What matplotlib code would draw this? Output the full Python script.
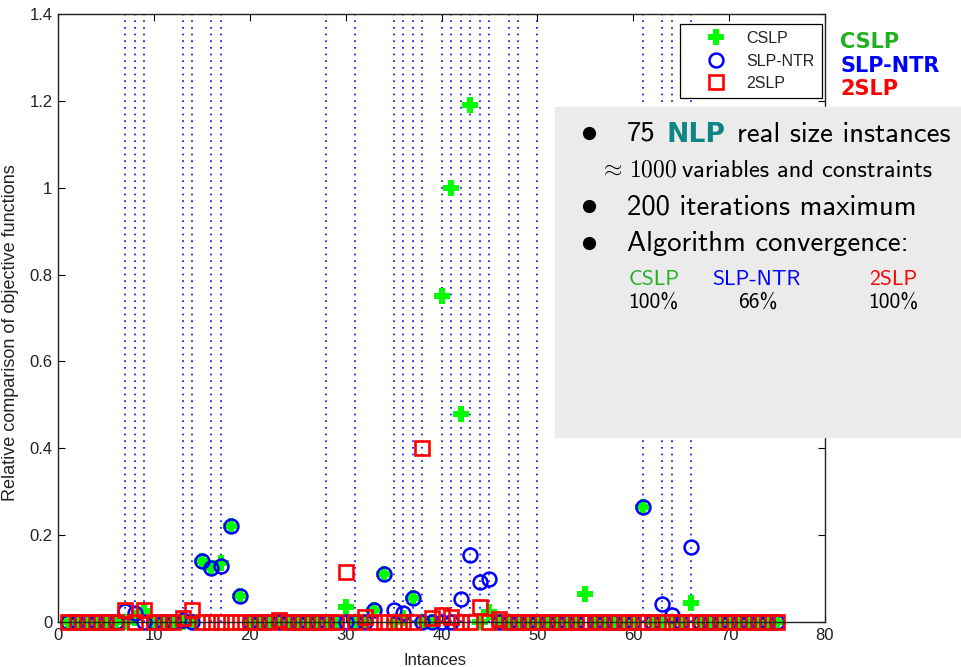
import numpy as np
import matplotlib.pyplot as plt
from matplotlib.patches import Rectangle
from matplotlib.lines import Line2D

plt.rcParams['font.family'] = ['Liberation Sans', 'DejaVu Sans']
plt.rcParams['mathtext.fontset'] = 'cm'

# relative objective comparison for the 75 instances
inst = np.arange(1, 76)
cslp = [0, 0, 0, 0, 0, 0, 0, 0.01, 0.025, 0,
        0, 0, 0, 0, 0.14, 0.125, 0.135, 0.22, 0.06, 0,
        0, 0, 0, 0, 0, 0, 0, 0, 0, 0.035,
        0, 0, 0.028, 0.11, 0, 0.01, 0.055, 0, 0, 0.75,
        1.0, 0.48, 1.19, 0, 0.022, 0, 0, 0, 0, 0,
        0, 0, 0, 0, 0.065, 0, 0, 0, 0, 0,
        0.265, 0, 0, 0, 0, 0.043, 0, 0, 0, 0,
        0, 0, 0, 0, 0]
slpntr = [0, 0, 0, 0, 0, 0, 0.025, 0.02, 0, 0,
          0, 0, 0.005, 0, 0.14, 0.125, 0.128, 0.22, 0.06, 0,
          0, 0, 0, 0, 0, 0, 0, 0, 0, 0,
          0, 0, 0.028, 0.11, 0.028, 0.02, 0.055, 0, 0, 0,
          0, 0.053, 0.155, 0.093, 0.099, 0, 0, 0, 0, 0,
          0, 0, 0, 0, 0, 0, 0, 0, 0, 0,
          0.265, 0, 0.042, 0.015, 0, 0.173, 0, 0, 0, 0,
          0, 0, 0, 0, 0]
twoslp = [0, 0, 0, 0, 0, 0, 0.028, 0, 0.028, 0,
          0, 0, 0.01, 0.028, 0, 0, 0, 0, 0, 0,
          0, 0, 0.005, 0, 0, 0, 0, 0, 0, 0.115,
          0, 0.012, 0, 0, 0, 0, 0, 0.4, 0.01, 0.015,
          0.012, 0, 0, 0.035, 0, 0.008, 0, 0, 0, 0,
          0, 0, 0, 0, 0, 0, 0, 0, 0, 0,
          0, 0, 0, 0, 0, 0, 0, 0, 0, 0,
          0, 0, 0, 0, 0]
# instances where SLP-NTR did not converge
failed = [7, 8, 9, 13, 14, 16, 17, 28, 31, 35, 36, 37, 38, 40, 41, 42, 43,
          44, 45, 47, 48, 50, 61, 63, 64, 66]

W, H = 961, 667
fig = plt.figure(figsize=(W / 100, H / 100), dpi=100)
ax = fig.add_axes([58 / W, 1 - 622 / H, 767 / W, 608 / H])

ax.vlines(failed, 0, 1.4, colors='#0000ff', linestyles=(0, (1, 3)), lw=1.2)
h1, = ax.plot(inst, cslp, 'P', color='#00ff00', ms=11, mew=0, ls='none', clip_on=False, label='CSLP')
h2, = ax.plot(inst, slpntr, 'o', mfc='none', mec='#0000ff', ms=10, mew=1.8, ls='none', clip_on=False, label='SLP-NTR')
h3, = ax.plot(inst, twoslp, 's', mfc='none', mec='#ff0000', ms=10, mew=1.9, ls='none', clip_on=False, label='2SLP')

ax.set_xlim(0, 80)
ax.set_ylim(0, 1.4)
ax.set_xticks(range(0, 81, 10))
ax.set_yticks(np.arange(0, 1.41, 0.2))
ax.set_yticklabels(['0', '0.2', '0.4', '0.6', '0.8', '1', '1.2', '1.4'])
ax.tick_params(direction='in', top=True, right=True, length=5, width=0.8,
               labelsize=12, labelcolor='#222222', pad=4)
for s in ax.spines.values():
    s.set_color('#222222')
    s.set_linewidth(1)

ax.set_xlabel('Intances', fontsize=12, color='#222222')
ax.xaxis.set_label_coords(0.4915, -0.051)
fig.text(11 / W, 1 - 333 / H, 'Relative comparison of objective functions',
         rotation=90, ha='center', va='center', fontsize=13, color='#222222')

leg = ax.legend([h1, h2, h3], ['CSLP', 'SLP-NTR', '2SLP'], loc='upper right',
                bbox_to_anchor=(822 / W, 1 - 24 / H), bbox_transform=fig.transFigure,
                borderaxespad=0, fontsize=11.5, borderpad=0.44, labelspacing=0.47,
                handlelength=3.6, handletextpad=0.12, numpoints=1,
                fancybox=False, framealpha=1, edgecolor='black')
leg.get_frame().set_linewidth(0.9)
for t in leg.get_texts():
    t.set_color('#222222')

# labels on the right of the plot
green_txt = '#20b020'
for yb, s, c in [(48, 'CSLP', green_txt), (72, 'SLP-NTR', '#0000ff'), (95, '2SLP', '#ff0000')]:
    fig.text(840 / W, 1 - yb / H, s, color=c, fontsize=15, fontweight='bold',
             family='DejaVu Sans', va='baseline')

# summary box
fig.add_artist(Rectangle((555 / W, 1 - 437 / H), (W - 555) / W, 330 / H,
                         transform=fig.transFigure, color='#ebebeb', zorder=10))


def put(x, y, s, **kw):
    kw.setdefault('family', 'cmss10')
    kw.setdefault('color', 'black')
    fig.text(x / W, 1 - y / H, s, va='baseline', zorder=11, **kw)


# item bullets
bullet_y = [133, 206, 243]
fig.add_artist(Line2D([589 / W] * 3, [1 - y / H for y in bullet_y], ls='none',
                      marker='o', ms=8.5, color='black', transform=fig.transFigure,
                      zorder=11))

big = 20.7
put(627, 141.7, '75', fontsize=big)
put(666.7, 141.7, 'NLP', fontsize=big - 1.5, fontweight='bold', family='DejaVu Sans', color='#0d8585')
put(736.6, 141.7, 'real size instances', fontsize=big)
put(599, 176.7, r'$\approx\,1000$', fontsize=17, family='DejaVu Sans')
put(682, 176.7, 'variables and constraints', fontsize=17.5)
put(627, 214, '200 iterations maximum', fontsize=big)
put(627, 250.7, 'Algorithm convergence:', fontsize=big)

small = 15.5
put(628.5, 284.6, 'CSLP', fontsize=small, color=green_txt)
put(712.4, 284.6, 'SLP-NTR', fontsize=small, color='#0000ff')
put(869, 284.6, '2SLP', fontsize=small, color='#ff0000')
put(628.5, 307.8, '100%', fontsize=small)
put(738, 307.8, '66%', fontsize=small)
put(868, 307.8, '100%', fontsize=small)

fig.savefig('out.png', dpi=100)
